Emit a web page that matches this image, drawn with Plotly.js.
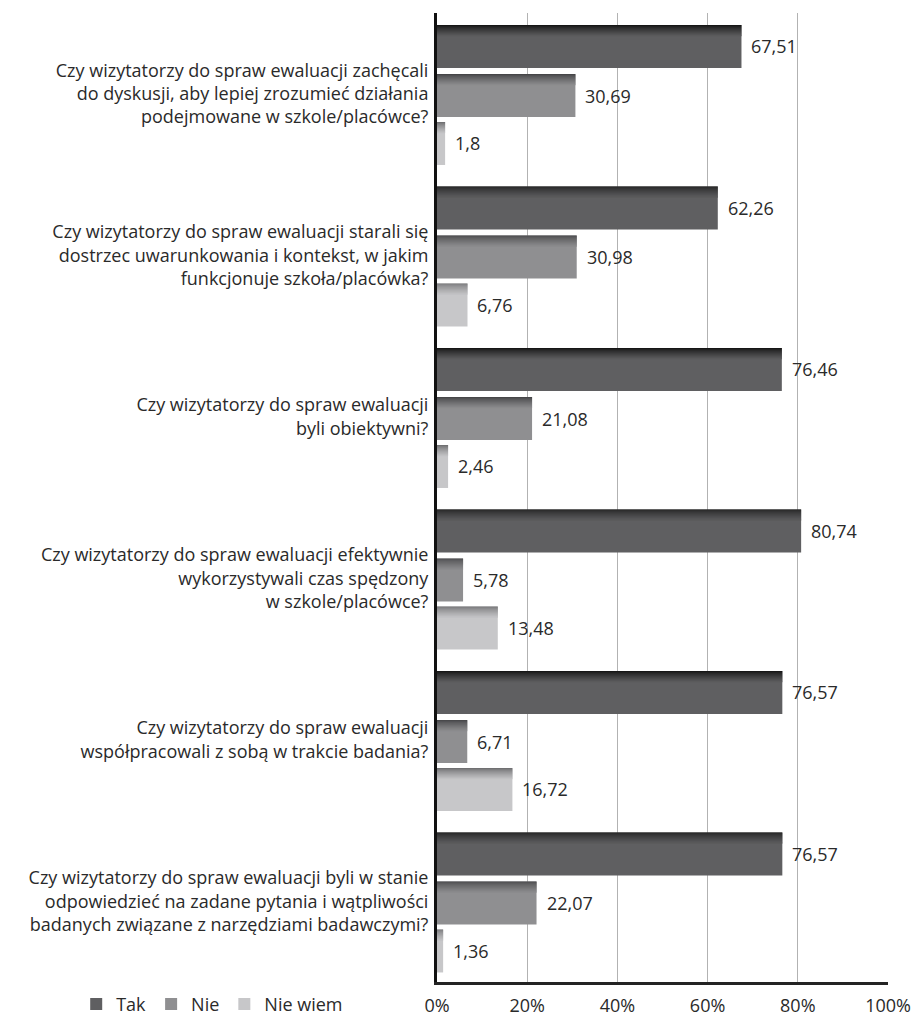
<!DOCTYPE html>
<html>
<head>
<meta charset="utf-8">
<script src="https://cdn.plot.ly/plotly-3.0.1.min.js"></script>
<style>html,body{margin:0;padding:0;background:#fff}</style>
</head>
<body>
<div id="chart" style="width:913px;height:1015px"></div>
<script>
// Survey questions (y categories, top to bottom)
const questions = [
  'Czy wizytatorzy do spraw ewaluacji zachęcali<br>do dyskusji, aby lepiej zrozumieć działania<br>podejmowane w szkole/placówce?',
  'Czy wizytatorzy do spraw ewaluacji starali się<br>dostrzec uwarunkowania i kontekst, w jakim<br>funkcjonuje szkoła/placówka?',
  'Czy wizytatorzy do spraw ewaluacji<br>byli obiektywni?',
  'Czy wizytatorzy do spraw ewaluacji efektywnie<br>wykorzystywali czas spędzony<br>w szkole/placówce?',
  'Czy wizytatorzy do spraw ewaluacji<br>współpracowali z sobą w trakcie badania?',
  'Czy wizytatorzy do spraw ewaluacji byli w stanie<br>odpowiedzieć na zadane pytania i wątpliwości<br>badanych związane z narzędziami badawczymi?'
];

// Answer shares in percent
const seriesNames = ['Tak', 'Nie', 'Nie wiem'];
const tak     = [67.51, 62.26, 76.46, 80.74, 76.57, 76.57];
const nie     = [30.69, 30.98, 21.08, 5.78, 6.71, 22.07];
const nieWiem = [1.8, 6.76, 2.46, 13.48, 16.72, 1.36];

const xTickVals = [0, 20, 40, 60, 80, 100];
const xTickText = ['0%', '20%', '40%', '60%', '80%', '100%'];

const FONT = '"Open Sans", "Noto Sans", sans-serif';
const FS = 18;

// bar geometry inside one category slot (category units)
const BAR_W = 0.266;
const offsets = [-0.426, -0.122, 0.175];
const fills = ['#5f5f61', '#8f8f91', '#c7c7c9'];
const edges = ['#161616', '#464648', '#707072'];

const values = [tak, nie, nieWiem];

function mix(a, b, t) {
  const pa = [1, 3, 5].map(i => parseInt(a.substr(i, 2), 16));
  const pb = [1, 3, 5].map(i => parseInt(b.substr(i, 2), 16));
  const c = pa.map((v, i) => Math.round(v + (pb[i] - v) * t));
  return 'rgb(' + c.join(',') + ')';
}

const traces = [];
values.forEach((vals, s) => {
  traces.push({
    type: 'bar', orientation: 'h', name: seriesNames[s],
    x: vals, y: questions,
    width: BAR_W, offset: offsets[s],
    marker: { color: fills[s], line: { width: 0 } },
    hoverinfo: 'skip'
  });
});

// soft dark shading along the top edge of every bar
const STRIPS = 11, STRIP_W = 0.0062;
values.forEach((vals, s) => {
  for (let k = 0; k < STRIPS; k++) {
    traces.push({
      type: 'bar', orientation: 'h', showlegend: false,
      x: vals, y: questions,
      width: STRIP_W + 0.001, offset: offsets[s] + k * STRIP_W,
      marker: { color: mix(edges[s], fills[s], Math.pow(k / STRIPS, 0.8)), line: { width: 0 } },
      hoverinfo: 'skip'
    });
  }
});

// value labels right of each bar
const annotations = [];
values.forEach((vals, s) => {
  vals.forEach((v, i) => {
    annotations.push({
      x: v, y: i + offsets[s] + BAR_W / 2, xref: 'x', yref: 'y',
      text: String(v).replace('.', ','), showarrow: false,
      xanchor: 'left', yanchor: 'middle', xshift: 8,
      font: { family: FONT, size: FS, color: '#2a2a2a' }
    });
  });
});

const layout = {
  width: 913, height: 1015,
  margin: { l: 437, r: 25, t: 13, b: 33, autoexpand: false },
  paper_bgcolor: '#ffffff', plot_bgcolor: '#ffffff',
  barmode: 'overlay',
  font: { family: FONT, size: FS, color: '#2a2a2a' },
  hovermode: false,
  showlegend: true,
  legend: {
    orientation: 'h', x: -0.8, xanchor: 'left', y: -0.004, yanchor: 'top',
    font: { family: FONT, size: FS, color: '#2a2a2a' },
    traceorder: 'normal', bgcolor: 'rgba(0,0,0,0)'
  },
  xaxis: {
    range: [0, 100], tickvals: xTickVals, ticktext: xTickText,
    showgrid: true, gridcolor: '#b2b2b2', gridwidth: 1.2,
    zeroline: false, showline: true, linecolor: '#232323', linewidth: 3,
    ticks: '', ticklabelstandoff: 5, automargin: false, fixedrange: true
  },
  yaxis: {
    type: 'category', categoryorder: 'array', categoryarray: questions,
    autorange: 'reversed', showgrid: false, zeroline: false,
    showline: true, linecolor: '#111111', linewidth: 3,
    ticks: '', ticklabelstandoff: 2, automargin: false, fixedrange: true
  },
  annotations: annotations
};

Plotly.newPlot('chart', traces, layout, { displayModeBar: false, staticPlot: true });
</script>
</body>
</html>
